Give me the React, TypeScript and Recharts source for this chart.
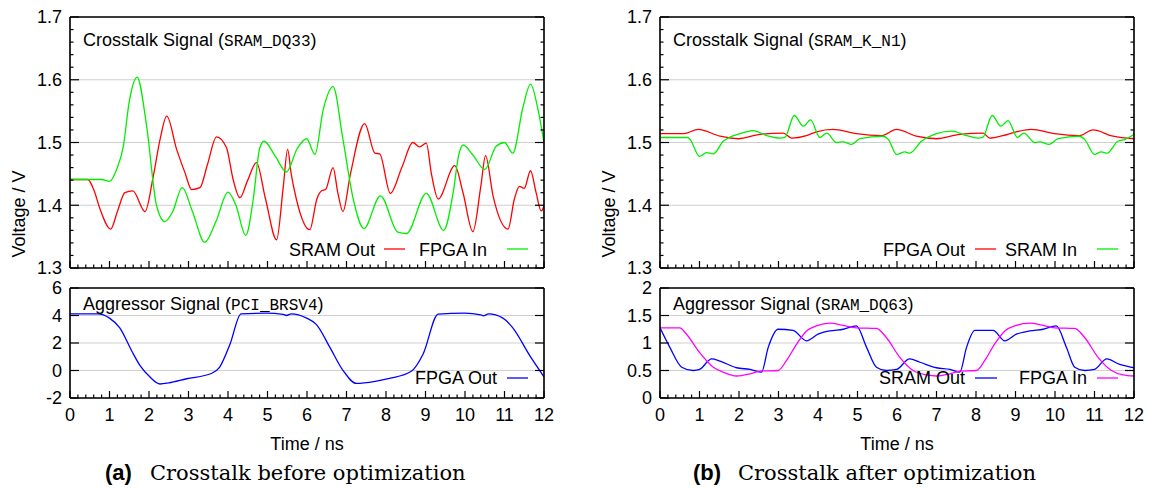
import React from "react";
import { LineChart, Line, XAxis, YAxis, CartesianGrid } from "recharts";

const SANS = "'Liberation Sans', Arial, sans-serif";
const MONO = "'Liberation Mono', 'DejaVu Sans Mono', monospace";
const SERIF = "'DejaVu Serif', serif";

type Pt = [number, number];

// time axis (ns)
const timeTicks = [0, 1, 2, 3, 4, 5, 6, 7, 8, 9, 10, 11, 12];
const crosstalkTicks = [1.3, 1.4, 1.5, 1.6, 1.7];
const aggressorTicksA = [-2, 0, 2, 4, 6];
const aggressorTicksB = [0, 0.5, 1, 1.5, 2];

// (a) crosstalk on SRAM_DQ33
const sramOutA: Pt[] = [
  [0, 1.441], [0.45, 1.441], [0.6, 1.425], [0.76, 1.394], [1.03, 1.362], [1.2, 1.39], [1.39, 1.42],
  [1.59, 1.423], [1.9, 1.39], [2.11, 1.447], [2.28, 1.505], [2.45, 1.542], [2.7, 1.489], [2.91, 1.452],
  [3.08, 1.425], [3.29, 1.428], [3.48, 1.465], [3.71, 1.509], [3.96, 1.492], [4.13, 1.441], [4.3, 1.412],
  [4.5, 1.44], [4.72, 1.468], [4.95, 1.41], [5.23, 1.345], [5.4, 1.43], [5.51, 1.489], [5.6, 1.45],
  [5.73, 1.41], [6.07, 1.361], [6.25, 1.41], [6.37, 1.423], [6.47, 1.425], [6.66, 1.46], [6.78, 1.42],
  [6.91, 1.39], [7.1, 1.45], [7.46, 1.53], [7.72, 1.483], [7.84, 1.482], [8.11, 1.419], [8.4, 1.46],
  [8.68, 1.5], [8.85, 1.493], [9.02, 1.499], [9.15, 1.45], [9.32, 1.41], [9.74, 1.463], [9.95, 1.42],
  [10.2, 1.358], [10.4, 1.43], [10.52, 1.479], [10.71, 1.415], [11.09, 1.362], [11.25, 1.41],
  [11.38, 1.43], [11.5, 1.427], [11.66, 1.455], [11.8, 1.42], [11.93, 1.391], [12, 1.399],
];
const fpgaInA: Pt[] = [
  [0, 1.441], [0.5, 1.441], [0.8, 1.441], [1.0, 1.438], [1.18, 1.457], [1.35, 1.494], [1.5, 1.565],
  [1.7, 1.604], [1.94, 1.526], [2.19, 1.4], [2.4, 1.374], [2.6, 1.39], [2.84, 1.428], [3.1, 1.39],
  [3.41, 1.341], [3.7, 1.375], [4.0, 1.421], [4.2, 1.4], [4.45, 1.352], [4.64, 1.41], [4.8, 1.49],
  [4.91, 1.502], [5.2, 1.478], [5.48, 1.453], [5.75, 1.49], [5.99, 1.506], [6.2, 1.481], [6.41, 1.552],
  [6.66, 1.589], [6.91, 1.505], [7.17, 1.41], [7.44, 1.363], [7.86, 1.415], [8.3, 1.357], [8.52, 1.355],
  [9.02, 1.419], [9.46, 1.36], [9.7, 1.42], [9.84, 1.48], [9.95, 1.496], [10.2, 1.48], [10.5, 1.457],
  [10.79, 1.494], [11.0, 1.5], [11.21, 1.483], [11.47, 1.557], [11.66, 1.593], [11.85, 1.552], [12, 1.5],
];
// (a) aggressor PCI_BRSV4
const fpgaOutAggA: Pt[] = [
  [0, 4.12], [0.7, 4.12], [1.0, 3.81], [1.26, 3.1], [1.56, 1.44], [1.77, 0.37], [2.02, -0.46],
  [2.28, -0.98], [2.5, -0.9], [2.95, -0.6], [3.58, -0.22], [3.79, 0.25], [4.05, 1.91], [4.33, 4.12],
  [4.97, 4.17], [5.4, 4.08], [5.48, 4.0], [5.6, 4.12], [5.99, 3.81], [6.24, 3.34], [6.58, 1.68],
  [6.91, 0.01], [7.25, -0.94], [7.76, -0.77], [8.09, -0.58], [8.64, -0.06], [8.94, 1.2], [9.32, 4.1],
  [9.99, 4.17], [10.4, 4.05], [10.46, 3.98], [10.6, 4.12], [10.96, 3.81], [11.21, 3.1], [11.64, 1.08],
  [12, -0.46],
];

// (b) crosstalk on SRAM_K_N1
const fpgaOutB: Pt[] = [
  [0, 1.514], [0.6, 1.514], [0.97, 1.521], [1.52, 1.51], [1.98, 1.506], [2.53, 1.513], [3.12, 1.515],
  [3.33, 1.507], [3.71, 1.511], [3.96, 1.517], [4.38, 1.521], [4.97, 1.514], [5.61, 1.511], [5.99, 1.521],
  [6.49, 1.51], [7.0, 1.506], [7.59, 1.513], [8.18, 1.515], [8.35, 1.507], [8.68, 1.511], [9.02, 1.517],
  [9.4, 1.521], [9.99, 1.514], [10.62, 1.511], [10.96, 1.52], [11.47, 1.51], [12, 1.506],
];
const sramInB: Pt[] = [
  [0, 1.508], [0.7, 1.508], [0.76, 1.505], [1.0, 1.478], [1.18, 1.484], [1.35, 1.482], [1.6, 1.502],
  [2.02, 1.514], [2.36, 1.519], [2.7, 1.511], [3.04, 1.507], [3.16, 1.508], [3.4, 1.543], [3.63, 1.526],
  [3.81, 1.536], [4.05, 1.508], [4.22, 1.515], [4.47, 1.5], [4.64, 1.501], [4.85, 1.497], [5.06, 1.506],
  [5.65, 1.51], [5.78, 1.505], [5.99, 1.481], [6.2, 1.485], [6.32, 1.483], [6.62, 1.502], [7.0, 1.514],
  [7.38, 1.518], [7.76, 1.511], [8.05, 1.507], [8.17, 1.508], [8.41, 1.543], [8.63, 1.526], [8.81, 1.535],
  [9.05, 1.508], [9.21, 1.515], [9.49, 1.5], [9.62, 1.501], [9.85, 1.497], [10.08, 1.506], [10.62, 1.51],
  [10.75, 1.505], [11.0, 1.481], [11.17, 1.485], [11.32, 1.483], [11.59, 1.502], [11.78, 1.505], [12, 1.513],
];
// (b) aggressor SRAM_DQ63
const sramOutAggB: Pt[] = [
  [0, 1.276], [0.25, 0.92], [0.55, 0.56], [0.84, 0.5], [1.0, 0.52], [1.31, 0.71], [1.52, 0.67],
  [1.94, 0.55], [2.28, 0.52], [2.57, 0.47], [2.74, 0.92], [2.99, 1.25], [3.37, 1.23], [3.71, 1.04],
  [4.0, 1.16], [4.3, 1.22], [4.64, 1.25], [4.97, 1.31], [5.23, 0.92], [5.48, 0.56], [5.73, 0.5],
  [5.99, 0.52], [6.32, 0.71], [6.58, 0.65], [7.0, 0.55], [7.34, 0.52], [7.59, 0.47], [7.76, 0.92],
  [7.97, 1.23], [8.43, 1.23], [8.73, 1.04], [9.02, 1.16], [9.36, 1.22], [9.7, 1.25], [10.03, 1.31],
  [10.29, 0.92], [10.5, 0.56], [10.75, 0.5], [11.0, 0.52], [11.31, 0.71], [11.64, 0.61], [12, 0.55],
];
const fpgaInAggB: Pt[] = [
  [0, 1.276], [0.5, 1.276], [0.67, 1.16], [1.0, 0.83], [1.35, 0.56], [1.6, 0.47], [1.94, 0.4],
  [2.28, 0.44], [2.53, 0.49], [2.99, 0.5], [3.2, 0.68], [3.46, 0.98], [3.71, 1.22], [3.96, 1.31],
  [4.3, 1.36], [4.64, 1.32], [4.97, 1.276], [5.48, 1.265], [5.73, 1.1], [6.07, 0.74], [6.41, 0.5],
  [6.75, 0.42], [7.0, 0.4], [7.34, 0.44], [7.59, 0.49], [8.01, 0.5], [8.22, 0.68], [8.47, 0.98],
  [8.73, 1.22], [8.98, 1.31], [9.36, 1.36], [9.7, 1.32], [9.99, 1.276], [10.5, 1.265], [10.75, 1.1],
  [11.09, 0.74], [11.43, 0.5], [11.72, 0.42], [12, 0.4],
];

const rows = (pts: Pt[]) => pts.map(([t, v]) => ({ t, v }));

// major ticks plus n-1 minor ticks between each pair
const withMinor = (major: number[], n: number) =>
  major.flatMap((m, i) => {
    if (i === major.length - 1) return [m];
    const step = (major[i + 1] - m) / n;
    return [m, ...Array.from({ length: n - 1 }, (_, k) => +(m + step * (k + 1)).toFixed(4))];
  });

type Side = "bottom" | "top" | "left" | "right";

// gnuplot-like inward ticks: long for majors, short for minors, labels on majors only
function makeTick(side: Side, majors: number[], fmt?: (v: number) => string) {
  return (props: any) => {
    const { x, y, payload } = props;
    const v = payload.value as number;
    const major = majors.some((m) => Math.abs(m - v) < 1e-6);
    const vert = side === "left" || side === "right";
    const len = major ? (vert ? 9 : 7) : 3.5;
    let x2 = x;
    let y2 = y;
    if (side === "bottom") y2 = y - len;
    if (side === "top") y2 = y + len;
    if (side === "left") x2 = x + len;
    if (side === "right") x2 = x - len;
    return (
      <g>
        <line x1={x} y1={y} x2={x2} y2={y2} stroke="#000" strokeWidth={1.2} />
        {fmt && major && side === "bottom" && (
          <text x={x} y={y + 23} textAnchor="middle" fontSize={18} fontFamily={SANS} fill="#000">
            {fmt(v)}
          </text>
        )}
        {fmt && major && side === "left" && (
          <text x={x - 8} y={y + 6.3} textAnchor="end" fontSize={18} fontFamily={SANS} fill="#000">
            {fmt(v)}
          </text>
        )}
      </g>
    );
  };
}

interface Series {
  data: Pt[];
  color: string;
}

interface PlotProps {
  left: number;
  top: number;
  height: number;
  margin: { top: number; right: number; bottom: number; left: number };
  yDomain: [number, number];
  yTicks: number[];
  ySub: number;
  yFmt: (v: number) => string;
  xLabels: boolean;
  series: Series[];
}

const border = { stroke: "#000", strokeWidth: 1.6 };
const xAll = withMinor(timeTicks, 5);
const fmtTime = (v: number) => String(v);

function Plot({ left, top, height, margin, yDomain, yTicks, ySub, yFmt, xLabels, series }: PlotProps) {
  const yAll = withMinor(yTicks, ySub);
  return (
    <div style={{ position: "absolute", left, top }}>
      <LineChart width={560} height={height} margin={margin}>
        {/* hidden axes carrying only the major ticks, used for the grid */}
        <XAxis xAxisId="xg" hide type="number" domain={[0, 12]} allowDataOverflow ticks={timeTicks} interval={0} />
        <YAxis yAxisId="yg" hide type="number" domain={yDomain} allowDataOverflow ticks={yTicks} interval={0} />
        <CartesianGrid xAxisId="xg" yAxisId="yg" stroke="#cfcfcf" strokeWidth={1} />
        <XAxis
          xAxisId={0} type="number" dataKey="t" domain={[0, 12]} allowDataOverflow ticks={xAll}
          interval={0} height={1} axisLine={border} tickLine={false} tickSize={0} tickMargin={0}
          tick={makeTick("bottom", timeTicks, xLabels ? fmtTime : undefined)}
        />
        <XAxis
          xAxisId="xt" orientation="top" type="number" domain={[0, 12]} allowDataOverflow ticks={xAll}
          interval={0} height={1} axisLine={border} tickLine={false} tickSize={0} tickMargin={0}
          tick={makeTick("top", timeTicks)}
        />
        <YAxis
          yAxisId={0} type="number" domain={yDomain} allowDataOverflow ticks={yAll} interval={0} width={1}
          axisLine={border} tickLine={false} tickSize={0} tickMargin={0}
          tick={makeTick("left", yTicks, yFmt)}
        />
        <YAxis
          yAxisId="yr" orientation="right" type="number" domain={yDomain} allowDataOverflow ticks={yAll}
          interval={0} width={1} axisLine={border} tickLine={false} tickSize={0} tickMargin={0}
          tick={makeTick("right", yTicks)}
        />
        {series.map((s, i) => (
          <Line
            key={i} xAxisId={0} yAxisId={0} data={rows(s.data)} dataKey="v" type="monotone"
            stroke={s.color} strokeWidth={1.3} dot={false} isAnimationActive={false}
          />
        ))}
      </LineChart>
    </div>
  );
}

const RED = "#ff0000";
const GREEN = "#00ee00";
const BLUE = "#0000ff";
const MAGENTA = "#ff00ff";

// 1px of each side is taken by the axis itself
const topMargin = { top: 16, right: 15, bottom: 11, left: 69 };
const botMargin = { top: 17, right: 15, bottom: 31, left: 69 };

function LegendText({ label, end, y }: { label: string; end: number; y: number }) {
  return (
    <text x={end} y={y} textAnchor="end" fontSize={18} fontFamily={SANS} fill="#000">
      {label}
    </text>
  );
}

function Overlay() {
  const title = (x: number, y: number, head: string, sig: string) => (
    <text x={x} y={y} fontSize={18} fontFamily={SANS} fill="#000">
      {head} (<tspan fontFamily={MONO} fontSize={16}>{sig}</tspan>)
    </text>
  );
  const sample = (x1: number, x2: number, y: number, color: string) => (
    <line x1={x1} x2={x2} y1={y} y2={y} stroke={color} strokeWidth={1.3} />
  );
  return (
    <svg width={1149} height={490} style={{ position: "absolute", left: 0, top: 0, pointerEvents: "none" }}>
      {title(83, 46, "Crosstalk Signal", "SRAM_DQ33")}
      {title(83, 310, "Aggressor Signal", "PCI_BRSV4")}
      {title(673, 46, "Crosstalk Signal", "SRAM_K_N1")}
      {title(673, 310, "Aggressor Signal", "SRAM_DQ63")}

      <LegendText label="SRAM Out" end={375} y={256} />
      {sample(384, 405, 249, RED)}
      <LegendText label="FPGA In" end={487} y={256} />
      {sample(507, 528, 249, GREEN)}
      <LegendText label="FPGA Out" end={497} y={384} />
      {sample(507, 528, 378, BLUE)}

      <LegendText label="FPGA Out" end={965} y={256} />
      {sample(975, 996, 249, RED)}
      <LegendText label="SRAM In" end={1077} y={256} />
      {sample(1097, 1118, 249, GREEN)}
      <LegendText label="SRAM Out" end={965} y={384} />
      {sample(975, 997, 378, BLUE)}
      <LegendText label="FPGA In" end={1087} y={384} />
      {sample(1097, 1118, 378, MAGENTA)}

      {[0, 590].map((dx) => (
        <g key={dx}>
          <text
            x={25 + dx} y={214} transform={`rotate(-90, ${25 + dx}, 214)`} textAnchor="middle"
            fontSize={18} fontFamily={SANS} fill="#000"
          >
            Voltage / V
          </text>
          <text x={307 + dx} y={450} textAnchor="middle" fontSize={18} fontFamily={SANS} fill="#000">
            Time / ns
          </text>
        </g>
      ))}

      <text x={105} y={480} fill="#000">
        <tspan fontFamily={SANS} fontWeight="bold" fontSize={22}>(a)</tspan>
        <tspan x={150} fontFamily={SERIF} fontSize={21}>Crosstalk before optimization</tspan>
      </text>
      <text x={693} y={480} fill="#000">
        <tspan fontFamily={SANS} fontWeight="bold" fontSize={22}>(b)</tspan>
        <tspan x={738} fontFamily={SERIF} fontSize={21}>Crosstalk after optimization</tspan>
      </text>
    </svg>
  );
}

export default function App() {
  return (
    <div style={{ position: "absolute", left: 0, top: 0, width: 1149, height: 490, background: "#fff" }}>
      <Plot
        left={0} top={0} height={280} margin={topMargin} yDomain={[1.3, 1.7]} yTicks={crosstalkTicks}
        ySub={5} yFmt={(v) => v.toFixed(1)} xLabels={false}
        series={[{ data: sramOutA, color: RED }, { data: fpgaInA, color: GREEN }]}
      />
      <Plot
        left={0} top={270} height={160} margin={botMargin} yDomain={[-2, 6]} yTicks={aggressorTicksA}
        ySub={1} yFmt={(v) => String(v)} xLabels
        series={[{ data: fpgaOutAggA, color: BLUE }]}
      />
      <Plot
        left={590} top={0} height={280} margin={topMargin} yDomain={[1.3, 1.7]} yTicks={crosstalkTicks}
        ySub={5} yFmt={(v) => v.toFixed(1)} xLabels={false}
        series={[{ data: fpgaOutB, color: RED }, { data: sramInB, color: GREEN }]}
      />
      <Plot
        left={590} top={270} height={160} margin={botMargin} yDomain={[0, 2]} yTicks={aggressorTicksB}
        ySub={1} yFmt={(v) => String(v)} xLabels
        series={[{ data: sramOutAggB, color: BLUE }, { data: fpgaInAggB, color: MAGENTA }]}
      />
      <Overlay />
    </div>
  );
}
